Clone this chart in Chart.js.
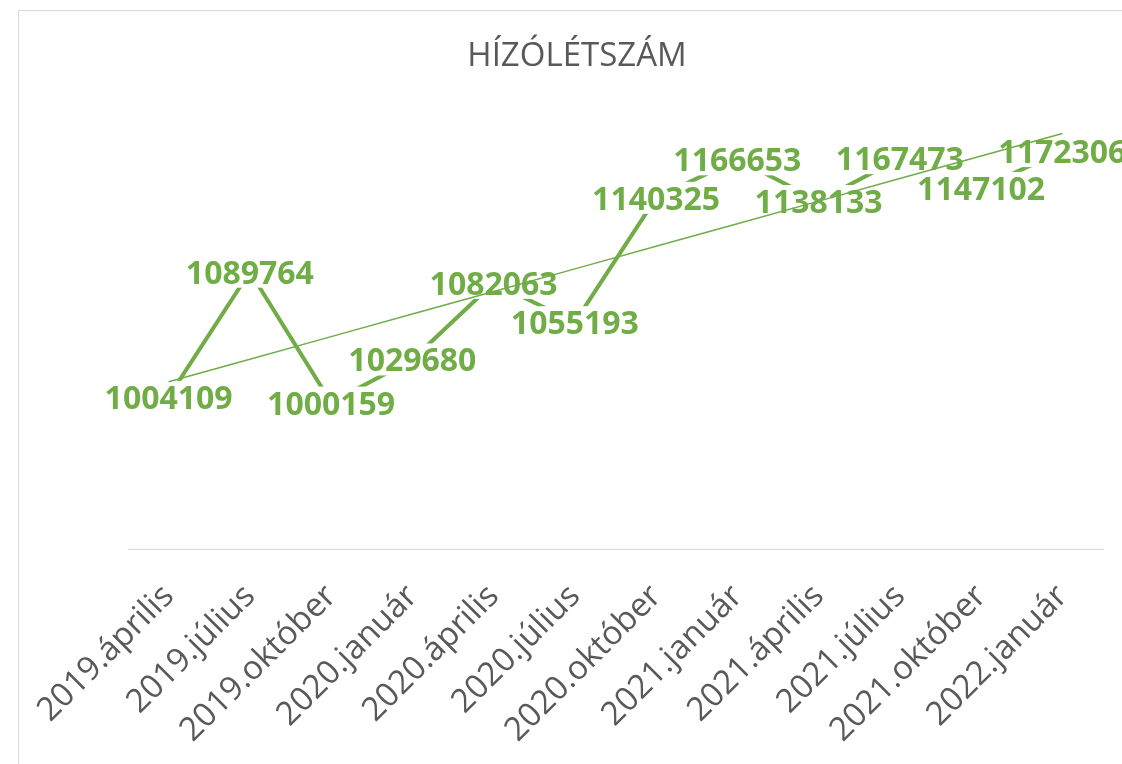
<!DOCTYPE html>
<html>
<head>
<meta charset="utf-8">
<script src="https://cdn.jsdelivr.net/npm/chart.js@4/dist/chart.umd.min.js"></script>
<style>
  html, body { margin: 0; padding: 0; background: #fff; }
  #wrap { position: relative; width: 1122px; height: 764px; overflow: hidden; }
  #frame { position: absolute; left: 18px; top: 10px; width: 1200px; height: 800px; border: 1px solid #d9d9d9; box-sizing: border-box; }
  #chart { position: absolute; left: 0; top: 0; }
</style>
</head>
<body>
<div id="wrap">
  <div id="frame"></div>
  <canvas id="chart" width="1122" height="764"></canvas>
</div>
<script>
// Chart data
const periods = [
    '2019.április', '2019.július', '2019.október', '2020.január',
    '2020.április', '2020.július', '2020.október', '2021.január',
    '2021.április', '2021.július', '2021.október', '2022.január'
];
const headcount = [
    1004109, 1089764, 1000159, 1029680, 1082063, 1055193,
    1140325, 1166653, 1138133, 1167473, 1147102, 1172306
];
const chartTitle = 'HÍZÓLÉTSZÁM';
const yMin = 900000;
const yMax = 1200000;

const GREEN = '#70ad47';
const GREY = '#595959';

// Linear trendline, like the spreadsheet one
function linearTrend(values) {
    const n = values.length;
    const meanX = (n - 1) / 2;
    const meanY = values.reduce((a, b) => a + b, 0) / n;
    let sxy = 0, sxx = 0;
    values.forEach((v, i) => {
        sxy += (i - meanX) * (v - meanY);
        sxx += (i - meanX) * (i - meanX);
    });
    const slope = sxy / sxx;
    return values.map((v, i) => meanY + slope * (i - meanX));
}

// Value labels centred on the points, white box hides the line under them
const valueLabels = {
    id: 'valueLabels',
    afterDatasetDraw(chart, args) {
        if (args.index !== 0) return;
        const ctx = chart.ctx;
        ctx.save();
        ctx.font = 'bold 32px "Open Sans"';
        ctx.textAlign = 'center';
        ctx.textBaseline = 'alphabetic';
        args.meta.data.forEach((pt, i) => {
            const text = String(headcount[i]);
            const w = ctx.measureText(text).width;
            ctx.fillStyle = '#ffffff';
            ctx.fillRect(pt.x - w / 2 - 2, pt.y - 16, w + 4, 32);
            ctx.fillStyle = GREEN;
            ctx.fillText(text, pt.x, pt.y + 12);
        });
        ctx.restore();
    }
};

new Chart(document.getElementById('chart'), {
    type: 'line',
    data: {
        labels: periods,
        datasets: [{
            label: 'Hízólétszám',
            data: headcount,
            borderColor: GREEN,
            borderWidth: 4,
            pointRadius: 0,
            tension: 0,
            order: 1
        }, {
            label: 'Trend',
            data: linearTrend(headcount),
            borderColor: GREEN,
            borderWidth: 1.5,
            pointRadius: 0,
            tension: 0,
            order: 0
        }]
    },
    options: {
        responsive: false,
        animation: false,
        layout: { padding: { left: 51, right: 19, top: 0, bottom: 0 } },
        plugins: {
            legend: { display: false },
            tooltip: { enabled: false },
            title: {
                display: true,
                text: chartTitle,
                color: GREY,
                font: { family: '"Open Sans"', size: 33, weight: 'normal' },
                padding: { top: 37, bottom: 34 }
            }
        },
        scales: {
            x: {
                offset: true,
                grid: { display: false },
                border: { display: true, color: '#d9d9d9', width: 1 },
                ticks: {
                    color: GREY,
                    font: { family: '"Open Sans"', size: 33 },
                    minRotation: 45,
                    maxRotation: 45,
                    autoSkip: false,
                    padding: 20
                },
                afterFit(scale) { scale.height = 215; }
            },
            y: {
                min: yMin,
                max: yMax,
                grid: { display: false },
                border: { display: false },
                ticks: { display: false },
                afterFit(scale) { scale.width = 77; }
            }
        }
    },
    plugins: [valueLabels]
});
</script>
</body>
</html>
